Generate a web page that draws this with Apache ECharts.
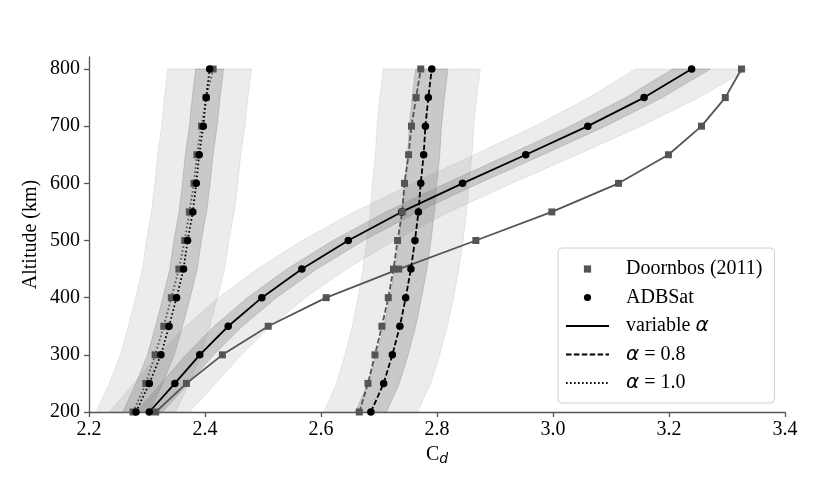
<!DOCTYPE html>
<html>
<head>
<meta charset="utf-8">
<script src="https://cdn.jsdelivr.net/npm/echarts@6/dist/echarts.min.js"></script>
<style>
  html, body { margin: 0; padding: 0; background: #fff; }
  #chart { width: 831px; height: 478px; }
</style>
</head>
<body>
<div id="chart"></div>
<script>
// altitude levels (km)
const altitudes = [200, 250, 300, 350, 400, 450, 500, 550, 600, 650, 700, 750, 800];
const yTicks = [200, 300, 400, 500, 600, 700, 800];

// drag coefficient, variable alpha
const adbsatVar = [2.304, 2.348, 2.391, 2.440, 2.498, 2.567, 2.647, 2.739, 2.844, 2.953, 3.060, 3.157, 3.239];
const doornbosVar = [2.315, 2.368, 2.430, 2.509, 2.609, 2.734, 2.867, 2.998, 3.113, 3.199, 3.256, 3.297, 3.325];
// alpha = 0.8
const adbsat08 = [2.686, 2.708, 2.723, 2.736, 2.746, 2.755, 2.762, 2.768, 2.772, 2.777, 2.780, 2.785, 2.791];
const doornbos08 = [2.666, 2.681, 2.693, 2.705, 2.716, 2.725, 2.732, 2.740, 2.744, 2.751, 2.756, 2.764, 2.772];
// alpha = 1.0
const adbsat10 = [2.281, 2.304, 2.324, 2.338, 2.351, 2.363, 2.370, 2.379, 2.385, 2.390, 2.397, 2.402, 2.408];
const doornbos10 = [2.276, 2.298, 2.314, 2.329, 2.342, 2.355, 2.365, 2.373, 2.381, 2.386, 2.394, 2.402, 2.414];

// uncertainty bands around ADBSat (fraction of Cd)
const bandInner = 0.01;
const bandOuter = 0.03;

const SERIF = '"Liberation Serif", "Times New Roman", serif';
const GREY = '#555555';
const DASH = [5.5, 2.4];
const DOT = [1.6, 2.4];

const pairs = (xs) => xs.map((v, i) => [v, altitudes[i]]);

const band = (vals, frac, color) => ({
  type: 'custom',
  silent: true,
  z: 1,
  data: [[vals[0], altitudes[0]]],
  renderItem: (params, api) => {
    const lo = vals.map((v, i) => api.coord([v * (1 - frac), altitudes[i]]));
    const hi = vals.map((v, i) => api.coord([v * (1 + frac), altitudes[i]])).reverse();
    return {
      type: 'polygon',
      shape: { points: lo.concat(hi) },
      style: { fill: color, stroke: color, lineWidth: 1 }
    };
  }
});

const curve = (vals, dark, dash) => ({
  type: 'line',
  z: 3,
  data: pairs(vals),
  symbol: dark ? 'circle' : 'rect',
  symbolSize: dark ? 7.5 : 7,
  showAllSymbol: true,
  silent: true,
  itemStyle: { color: dark ? '#000' : GREY },
  lineStyle: { color: dark ? '#000' : GREY, width: 1.8, type: dash }
});

// empty series used only as legend handles
const handle = (name, opts) => Object.assign({
  name: name,
  type: 'line',
  data: [],
  symbol: 'none'
}, opts);

const lightBand = 'rgba(128,128,128,0.15)';
const darkBand = 'rgba(128,128,128,0.32)';

const chart = echarts.init(document.getElementById('chart'));

chart.setOption({
  animation: false,
  backgroundColor: '#fff',
  grid: { left: 89, right: 46, top: 57, bottom: 66 },
  xAxis: {
    type: 'value',
    min: 2.2,
    max: 3.4,
    interval: 0.2,
    name: '{c|C}{d|d}',
    nameLocation: 'middle',
    nameGap: 30,
    nameTextStyle: {
      rich: {
        c: { fontFamily: SERIF, fontSize: 20, color: '#000' },
        d: { fontFamily: 'DejaVu Sans', fontStyle: 'italic', fontSize: 14, color: '#000', padding: [8, 0, 0, 0] }
      }
    },
    splitLine: { show: false },
    axisLine: { lineStyle: { color: '#555', width: 1.3 } },
    axisTick: { length: 5, lineStyle: { color: '#555', width: 1.3 } },
    axisLabel: {
      fontFamily: SERIF, fontSize: 20, color: '#000', margin: 8,
      formatter: (v) => v.toFixed(1)
    }
  },
  yAxis: {
    type: 'value',
    min: 200,
    max: 821,
    name: 'Altitude (km)',
    nameLocation: 'middle',
    nameRotate: 90,
    nameGap: 48,
    nameMoveOverlap: false,
    nameTextStyle: { fontFamily: SERIF, fontSize: 20, color: '#000' },
    splitLine: { show: false },
    axisLine: { lineStyle: { color: '#555', width: 1.3 } },
    axisTick: { length: 5, customValues: yTicks, lineStyle: { color: '#555', width: 1.3 } },
    axisLabel: {
      fontFamily: SERIF, fontSize: 20, color: '#000', margin: 9,
      customValues: yTicks
    }
  },
  legend: {
    left: 558,
    top: 248,
    orient: 'vertical',
    align: 'left',
    padding: [11, 12, 10, 7],
    itemGap: 8.5,
    itemWidth: 43,
    itemHeight: 9,
    backgroundColor: 'rgba(255,255,255,0.8)',
    borderColor: '#d0d0d0',
    borderWidth: 1,
    borderRadius: 4,
    selectedMode: false,
    textStyle: {
      fontFamily: SERIF, fontSize: 20, color: '#000',
      rich: {
        g: { width: 12 },
        t: { fontFamily: SERIF, fontSize: 20, color: '#000' },
        a: { fontFamily: 'DejaVu Sans', fontStyle: 'italic', fontSize: 20, color: '#000' }
      }
    },
    formatter: (name) => {
      const parts = name.split('α');
      if (parts.length === 1) return '{g|}{t|' + name + '}';
      return '{g|}' + (parts[0] ? '{t|' + parts[0] + '}' : '') + '{a|α}' + '{t|' + parts[1] + '}';
    },
    data: [
      { name: 'Doornbos (2011)', lineStyle: { opacity: 0 } },
      { name: 'ADBSat', lineStyle: { opacity: 0 } },
      { name: 'variable α', itemStyle: { opacity: 0 } },
      { name: 'α = 0.8', itemStyle: { opacity: 0 } },
      { name: 'α = 1.0', itemStyle: { opacity: 0 } }
    ]
  },
  series: [
    band(adbsatVar, bandOuter, lightBand),
    band(adbsat08, bandOuter, lightBand),
    band(adbsat10, bandOuter, lightBand),
    band(adbsatVar, bandInner, darkBand),
    band(adbsat08, bandInner, darkBand),
    band(adbsat10, bandInner, darkBand),

    curve(doornbosVar, false, 'solid'),
    curve(adbsatVar, true, 'solid'),
    curve(doornbos08, false, DASH),
    curve(adbsat08, true, DASH),
    curve(doornbos10, false, DOT),
    curve(adbsat10, true, DOT),

    handle('Doornbos (2011)', { symbol: 'rect', itemStyle: { color: GREY }, lineStyle: { width: 0 } }),
    handle('ADBSat', { symbol: 'circle', itemStyle: { color: '#000' }, lineStyle: { width: 0 } }),
    handle('variable α', { itemStyle: { color: '#000' }, lineStyle: { color: '#000', width: 1.8 } }),
    handle('α = 0.8', { itemStyle: { color: '#000' }, lineStyle: { color: '#000', width: 1.8, type: DASH } }),
    handle('α = 1.0', { itemStyle: { color: '#000' }, lineStyle: { color: '#000', width: 1.8, type: DOT } })
  ]
});
</script>
</body>
</html>
